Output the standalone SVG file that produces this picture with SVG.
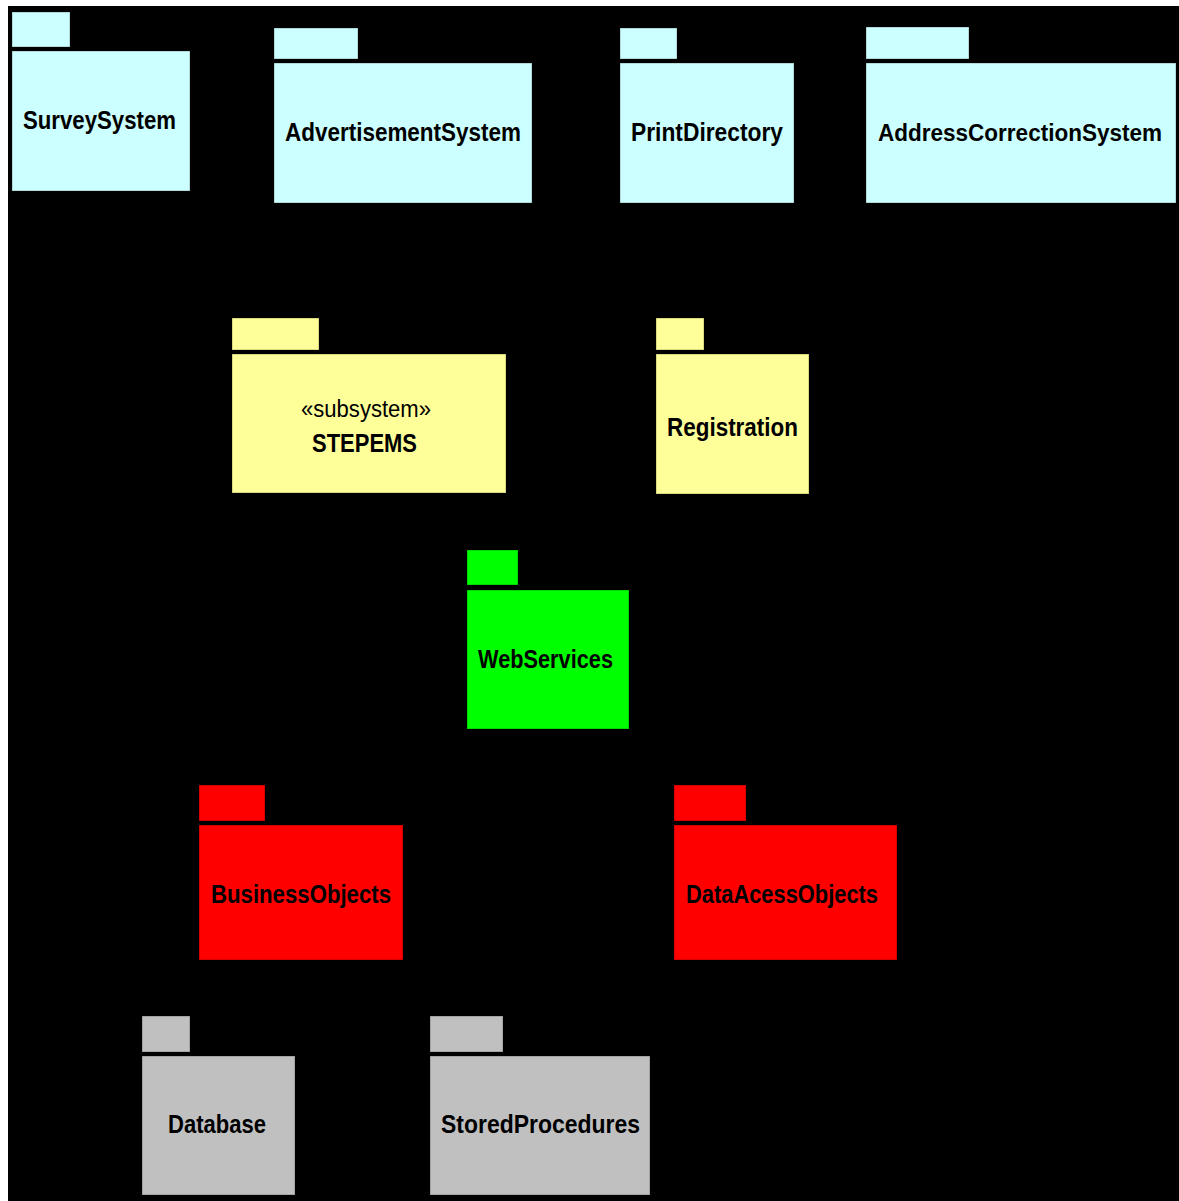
<svg xmlns="http://www.w3.org/2000/svg" width="1179" height="1201" viewBox="0 0 1179 1201">
<style>
.box{stroke:#000;stroke-opacity:0.3;stroke-width:1}
.cy{fill:#CCFFFF}.ye{fill:#FFFF99}.gr{fill:#00FF00}.rd{fill:#FF0000}.gy{fill:#C0C0C0}
.lbl{font-family:"Liberation Sans",Arial,sans-serif;font-weight:bold;font-size:26px;fill:#000}
.st{font-family:"Liberation Sans",Arial,sans-serif;font-size:23px;fill:#000}
.con{stroke:#000;stroke-width:2;fill:none}
</style>
<rect x="0" y="0" width="1179" height="1201" fill="#fff"/>
<rect x="8" y="6" width="1171" height="1195" fill="#000"/>
<g id="connectors">
<path class="con" d="M102,188 L102,260 L367,260 L367,356"/>
<path class="con" d="M367,491 L367,520 L547,520 L547,592"/>
<path class="con" d="M547,727 L547,760 L301,760 L301,827"/>
<path class="con" d="M547,760 L781,760 L781,827"/>
<path class="con" d="M293,1106 L432,1106"/>
</g>
<g id="SurveySystem">
<rect class="box cy" x="12" y="12" width="58" height="35"/>
<rect class="box cy" x="12" y="51" width="178" height="140"/>
<text class="lbl" x="23" y="129" textLength="153" lengthAdjust="spacingAndGlyphs">SurveySystem</text>
</g>
<g id="AdvertisementSystem">
<rect class="box cy" x="274" y="28" width="84" height="31"/>
<rect class="box cy" x="274" y="63" width="258" height="140"/>
<text class="lbl" x="285" y="141" textLength="236" lengthAdjust="spacingAndGlyphs">AdvertisementSystem</text>
</g>
<g id="PrintDirectory">
<rect class="box cy" x="620" y="28" width="57" height="31"/>
<rect class="box cy" x="620" y="63" width="174" height="140"/>
<text class="lbl" x="631" y="141" textLength="152" lengthAdjust="spacingAndGlyphs">PrintDirectory</text>
</g>
<g id="AddressCorrectionSystem">
<rect class="box cy" x="866" y="27" width="103" height="32"/>
<rect class="box cy" x="866" y="63" width="310" height="140"/>
<text class="lbl" x="878" y="141" style="font-size:23px" textLength="284" lengthAdjust="spacingAndGlyphs">AddressCorrectionSystem</text>
</g>
<g id="STEPEMS">
<rect class="box ye" x="232" y="318" width="87" height="32"/>
<rect class="box ye" x="232" y="354" width="274" height="139"/>
<text class="st" x="301" y="417" textLength="130" lengthAdjust="spacingAndGlyphs">«subsystem»</text>
<text class="lbl" x="312" y="452" textLength="105" lengthAdjust="spacingAndGlyphs">STEPEMS</text>
</g>
<g id="Registration">
<rect class="box ye" x="656" y="318" width="48" height="32"/>
<rect class="box ye" x="656" y="354" width="153" height="140"/>
<text class="lbl" x="667" y="436" textLength="131" lengthAdjust="spacingAndGlyphs">Registration</text>
</g>
<g id="WebServices">
<rect class="box gr" x="467" y="550" width="51" height="35"/>
<rect class="box gr" x="467" y="590" width="162" height="139"/>
<text class="lbl" x="478" y="668" textLength="135" lengthAdjust="spacingAndGlyphs">WebServices</text>
</g>
<g id="BusinessObjects">
<rect class="box rd" x="199" y="785" width="66" height="36"/>
<rect class="box rd" x="199" y="825" width="204" height="135"/>
<text class="lbl" x="211" y="903" textLength="180" lengthAdjust="spacingAndGlyphs">BusinessObjects</text>
</g>
<g id="DataAcessObjects">
<rect class="box rd" x="674" y="785" width="72" height="36"/>
<rect class="box rd" x="674" y="825" width="223" height="135"/>
<text class="lbl" x="686" y="903" textLength="192" lengthAdjust="spacingAndGlyphs">DataAcessObjects</text>
</g>
<g id="Database">
<rect class="box gy" x="142" y="1016" width="48" height="36"/>
<rect class="box gy" x="142" y="1056" width="153" height="139"/>
<text class="lbl" x="168" y="1133" textLength="98" lengthAdjust="spacingAndGlyphs">Database</text>
</g>
<g id="StoredProcedures">
<rect class="box gy" x="430" y="1016" width="73" height="36"/>
<rect class="box gy" x="430" y="1056" width="220" height="139"/>
<text class="lbl" x="441" y="1133" textLength="199" lengthAdjust="spacingAndGlyphs">StoredProcedures</text>
</g>
</svg>
